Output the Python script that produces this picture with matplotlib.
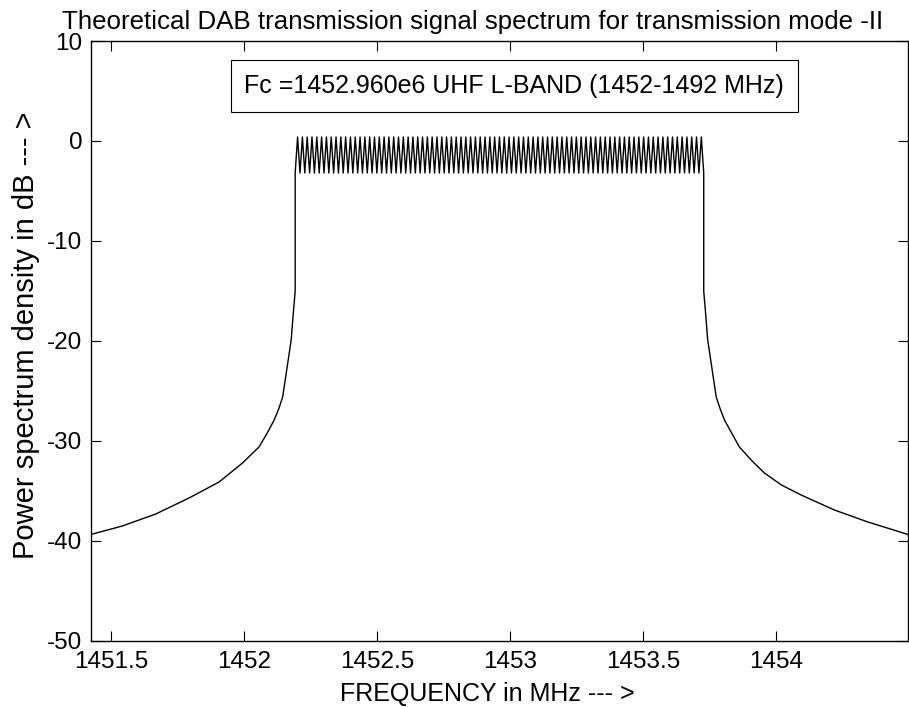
import numpy as np
import matplotlib
matplotlib.use("Agg")
import matplotlib.pyplot as plt

plt.rcParams['font.family'] = ['Liberation Sans', 'DejaVu Sans']
plt.rcParams['axes.unicode_minus'] = False

# centre frequency and span (MHz)
fc = 1452.960
span = 1.536

# skirts (offset from fc in MHz, level in dB)
left_offset = [-1.536, -1.4175, -1.292, -1.167, -1.054, -0.966, -0.904, -0.875,
               -0.847, -0.83, -0.815, -0.796, -0.783, -0.775, -0.768]
left_db = [-39.35, -38.5, -37.3, -35.7, -34.1, -32.2, -30.6, -29.3,
           -27.9, -26.8, -25.6, -22.2, -19.9, -17.2, -15.0]
right_offset = [0.768, 0.775, 0.783, 0.796, 0.815, 0.83, 0.846, 0.875, 0.902,
                0.95, 0.996, 1.06, 1.134, 1.259, 1.385, 1.536]
right_db = [-15.0, -17.2, -19.9, -22.2, -25.6, -26.8, -27.9, -29.3, -30.6,
            -32.0, -33.2, -34.4, -35.4, -36.9, -38.1, -39.35]

# in-band ripple (dB) and the number of ripples seen across the band
ripple_high = 0.4
ripple_low = -3.2
n_ripples = 85
band_edge = 0.768

xticks = [1451.5, 1452, 1452.5, 1453, 1453.5, 1454]
xticklabels = ['1451.5', '1452', '1452.5', '1453', '1453.5', '1454']
yticks = [-50, -40, -30, -20, -10, 0, 10]

# in-band: alternate the two read levels
band_x = np.linspace(-band_edge, band_edge, 2 * n_ripples + 1)
band_y = [ripple_low if i % 2 == 0 else ripple_high for i in range(len(band_x))]

x = np.concatenate([left_offset, band_x, right_offset]) + fc
y = np.concatenate([left_db, band_y, right_db])

fig = plt.figure(figsize=(9.09, 7.07), dpi=100)
ax = fig.add_axes([0.100, 0.0934, 0.8989, 0.8486])
ax.plot(x, y, color='black', linewidth=1.0)

ax.set_xlim(fc - span, fc + span)
ax.set_ylim(-50, 10)
ax.set_xticks(xticks)
ax.set_xticklabels(xticklabels)
ax.set_yticks(yticks)
ax.tick_params(direction='in', length=7, width=0.8, top=True, right=True,
               labelsize=17.5)
ax.tick_params(axis='x', pad=7)
ax.tick_params(axis='y', pad=6)
for s in ax.spines.values():
    s.set_linewidth(1.0)

ax.set_title('Theoretical DAB transmission signal spectrum for transmission mode -II',
             fontsize=18.6, x=0.4676, pad=9)
ax.set_xlabel('FREQUENCY in MHz --- >', fontsize=18)
ax.xaxis.set_label_coords(0.485, -0.068)
ax.set_ylabel('Power spectrum density in dB --- >', fontsize=21)
ax.yaxis.set_label_coords(-0.062, 0.51)

ax.text(0.518, 0.925, 'Fc =1452.960e6 UHF L-BAND (1452-1492 MHz)',
        transform=ax.transAxes, ha='center', va='center', fontsize=18,
        bbox=dict(boxstyle='square,pad=0.55', facecolor='white',
                  edgecolor='black', linewidth=0.8))

fig.savefig('out.png', dpi=100)
